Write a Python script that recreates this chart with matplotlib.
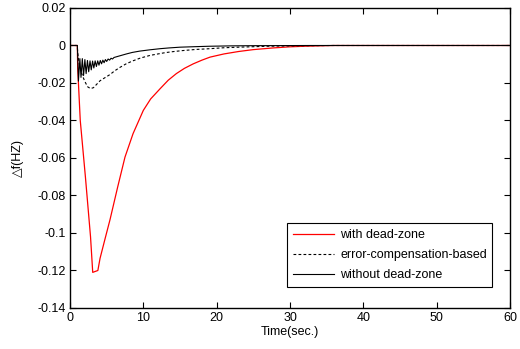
import matplotlib
matplotlib.use('Agg')
import matplotlib.pyplot as plt
import matplotlib.ticker as mtick

# with dead-zone (red)
t_red = [0, 1.0, 1.05, 1.2, 1.4, 1.75, 2.1, 2.45, 2.8, 3.1, 3.8, 4.1, 4.8, 5.45,
         6.5, 7.5, 8.6, 10.0, 11.0, 12.3, 13.4, 14.5, 15.6, 16.8, 18.0, 19.1,
         21.0, 23.0, 25.0, 27.7, 30.0, 32.0, 36.0, 60]
v_red = [0, 0, -0.012, -0.024, -0.040, -0.055, -0.070, -0.086, -0.102, -0.121,
         -0.120, -0.1135, -0.1028, -0.093, -0.0755, -0.0595, -0.047, -0.0346,
         -0.0285, -0.023, -0.0185, -0.015, -0.0122, -0.0098, -0.0078, -0.0062,
         -0.0045, -0.0032, -0.0022, -0.0013, -0.0007, -0.0004, 0, 0]

# error-compensation-based (dashed)
t_comp = [0, 1.0, 1.05, 1.3, 1.6, 2.0, 2.4, 2.8, 3.2, 4.1, 5.45, 6.1, 6.8, 7.6,
          8.5, 9.6, 10.9, 12.0, 13.0, 14.2, 15.4, 17.2, 19.1, 21.0, 23.0, 27.0,
          32.0, 36.0, 60]
v_comp = [0, 0, -0.004, -0.011, -0.015, -0.019, -0.022, -0.023, -0.0225, -0.0188,
          -0.0155, -0.0135, -0.0117, -0.0099, -0.0083, -0.0067, -0.0053, -0.0045,
          -0.0038, -0.0032, -0.0027, -0.0021, -0.0017, -0.0012, -0.0009, -0.0004,
          -0.0001, 0, 0]

# without dead-zone (black, oscillating)
t_free = [0, 1.0, 1.05, 1.15, 1.35, 1.5, 1.68, 1.85, 2.03, 2.2, 2.38, 2.55, 2.73,
          2.9, 3.08, 3.25, 3.43, 3.6, 3.78, 3.95, 4.13, 4.3, 4.48, 4.65, 4.83,
          5.0, 5.2, 5.4, 5.6, 5.8, 6.0, 6.8, 7.7, 8.5, 9.5, 10.9, 12.3, 13.5,
          15.0, 17.3, 19.0, 22.0, 25.0, 33.0, 60]
v_free = [0, 0, -0.005, -0.019, -0.007, -0.017, -0.007, -0.016, -0.0075, -0.015,
          -0.008, -0.014, -0.0082, -0.013, -0.0083, -0.012, -0.0082, -0.0112,
          -0.0082, -0.0105, -0.008, -0.0098, -0.0078, -0.0092, -0.0075, -0.0085,
          -0.0072, -0.0078, -0.0068, -0.0072, -0.0064, -0.0055, -0.0045, -0.0037,
          -0.003, -0.0023, -0.0017, -0.0013, -0.0009, -0.0006, -0.0004, -0.0002,
          -0.0001, 0, 0]

x_ticks = [0, 10, 20, 30, 40, 50, 60]
y_ticks = [0.02, 0, -0.02, -0.04, -0.06, -0.08, -0.1, -0.12, -0.14]


def render():
    plt.rcParams['font.family'] = ['Liberation Sans', 'DejaVu Sans']
    plt.rcParams['font.size'] = 9
    plt.rcParams['axes.unicode_minus'] = False

    fig = plt.figure(figsize=(5.2, 3.49), dpi=100)
    ax = fig.add_axes([0.1346, 0.1175, 0.8462, 0.8596])

    ax.plot(t_red, v_red, color='red', lw=0.9, label='with dead-zone')
    ax.plot(t_comp, v_comp, color='black', lw=0.8, ls=(0, (2.5, 2)),
            label='error-compensation-based')
    ax.plot(t_free, v_free, color='black', lw=0.8, label='without dead-zone')

    ax.set_xlim(0, 60)
    ax.set_ylim(-0.14, 0.02)
    ax.set_xticks(x_ticks)
    ax.set_yticks(y_ticks)
    ax.yaxis.set_major_formatter(mtick.FormatStrFormatter('%g'))
    ax.tick_params(direction='in', top=True, right=True, length=4, width=0.8,
                   labelsize=9, pad=3)
    for sp in ax.spines.values():
        sp.set_linewidth(1.0)

    ax.set_xlabel('Time(sec.)', labelpad=1)
    ax.set_ylabel('△f(HZ)', labelpad=10)

    leg = ax.legend(loc='lower right', bbox_to_anchor=(0.96, 0.07),
                    fancybox=False, framealpha=1, edgecolor='black',
                    fontsize=9, handlelength=3.3, borderpad=0.45,
                    labelspacing=0.65, handletextpad=0.5, borderaxespad=0)
    leg.get_frame().set_linewidth(0.8)

    fig.savefig('out.png', dpi=100)


if __name__ == '__main__':
    render()
